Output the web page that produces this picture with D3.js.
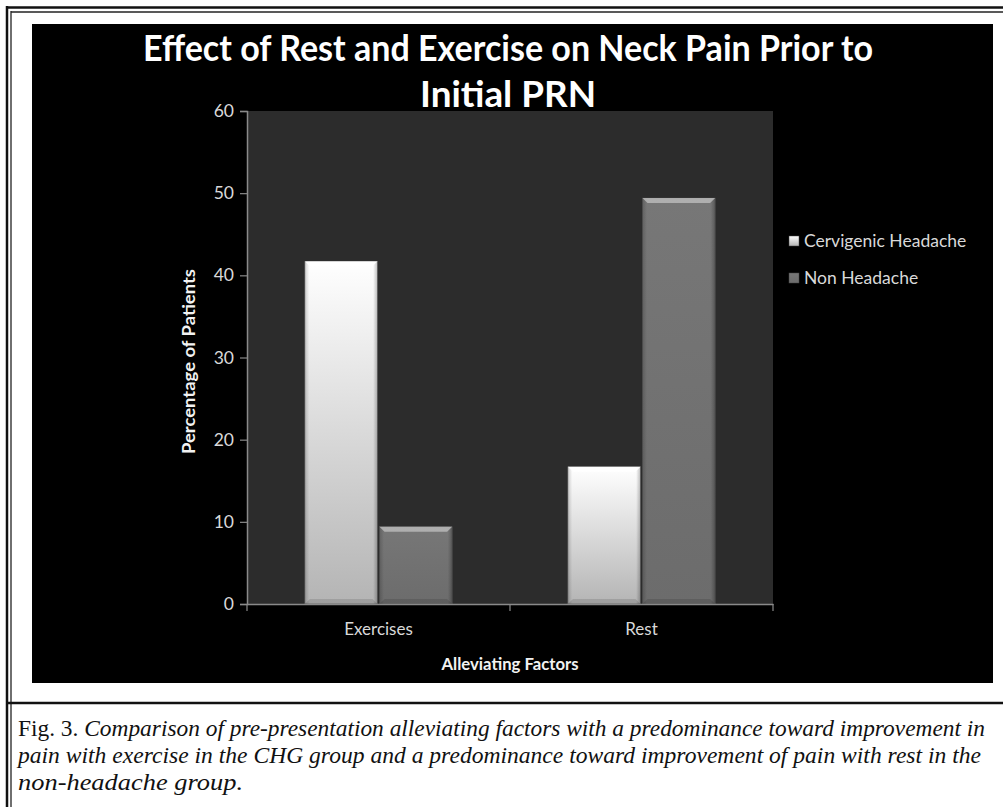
<!DOCTYPE html>
<html>
<head>
<meta charset="utf-8">
<script src="https://cdn.jsdelivr.net/npm/d3@7"></script>
<style>
  html, body { margin: 0; padding: 0; background: #fff; }
  svg { display: block; }
</style>
</head>
<body>
<svg id="fig" width="1003" height="807"></svg>
<script>
// Chart data
const categories = ["Exercises", "Rest"];
const seriesNames = ["Cervigenic Headache", "Non Headache"];
const cervigenicValues = [41.7, 16.7];
const nonHeadacheValues = [9.4, 49.4];
const yTicks = [0, 10, 20, 30, 40, 50, 60];
const titleLines = ["Effect of Rest and Exercise on Neck Pain Prior to", "Initial PRN"];
const captionLead = "Fig. 3. ";
const captionLines = [
  "Comparison of  pre-presentation alleviating factors with a predominance toward improvement in",
  "pain with exercise in the CHG group and a predominance toward improvement of  pain with rest in the",
  "non-headache group."
];

const svg = d3.select("#fig");
const defs = svg.append("defs");

// Figure frame: double rule at top and left, single rule above the caption
const frame = svg.append("g");
frame.append("line").attr("x1", 6).attr("x2", 1003).attr("y1", 7.5).attr("y2", 7.5).attr("stroke", "#111").attr("stroke-width", 2.5);
frame.append("line").attr("x1", 11).attr("x2", 1003).attr("y1", 12).attr("y2", 12).attr("stroke", "#222").attr("stroke-width", 1.3);
frame.append("line").attr("x1", 7).attr("x2", 7).attr("y1", 6).attr("y2", 807).attr("stroke", "#111").attr("stroke-width", 2.5);
frame.append("line").attr("x1", 11).attr("x2", 11).attr("y1", 11).attr("y2", 807).attr("stroke", "#222").attr("stroke-width", 1.3);
frame.append("line").attr("x1", 7).attr("x2", 1003).attr("y1", 703).attr("y2", 703).attr("stroke", "#111").attr("stroke-width", 2.5);

// Chart area
svg.append("rect").attr("x", 32).attr("y", 24).attr("width", 961).attr("height", 659).attr("fill", "#000");

const plot = { left: 247, right: 773, top: 111, bottom: 604 };

const x0 = d3.scaleBand().domain(categories).range([plot.left, plot.right]).paddingInner(0).paddingOuter(0);
const x1 = d3.scaleBand().domain(seriesNames)
  .range([x0.bandwidth() * 0.22, x0.bandwidth() * 0.78])
  .paddingInner(0.027).paddingOuter(0);
const y = d3.scaleLinear().domain([0, 60]).range([plot.bottom, plot.top]);

svg.append("rect")
  .attr("x", plot.left).attr("y", plot.top)
  .attr("width", plot.right - plot.left).attr("height", plot.bottom - plot.top)
  .attr("fill", "#2c2c2c");

// Gradients for the bevelled bars
const gWhite = defs.append("linearGradient").attr("id", "gWhite").attr("x1", 0).attr("x2", 0).attr("y1", 0).attr("y2", 1);
gWhite.append("stop").attr("offset", "0%").attr("stop-color", "#ffffff");
gWhite.append("stop").attr("offset", "100%").attr("stop-color", "#b4b4b4");
const gWhiteSide = defs.append("linearGradient").attr("id", "gWhiteSide").attr("x1", 0).attr("x2", 1).attr("y1", 0).attr("y2", 0);
gWhiteSide.append("stop").attr("offset", "0%").attr("stop-color", "#000").attr("stop-opacity", 0.18);
gWhiteSide.append("stop").attr("offset", "6%").attr("stop-color", "#000").attr("stop-opacity", 0);
gWhiteSide.append("stop").attr("offset", "94%").attr("stop-color", "#000").attr("stop-opacity", 0);
gWhiteSide.append("stop").attr("offset", "100%").attr("stop-color", "#000").attr("stop-opacity", 0.25);
const gGray = defs.append("linearGradient").attr("id", "gGray").attr("x1", 0).attr("x2", 0).attr("y1", 0).attr("y2", 1);
gGray.append("stop").attr("offset", "0%").attr("stop-color", "#777");
gGray.append("stop").attr("offset", "100%").attr("stop-color", "#6c6c6c");

const fills = { "Cervigenic Headache": "url(#gWhite)", "Non Headache": "url(#gGray)" };
const tops = { "Cervigenic Headache": "#ffffff", "Non Headache": "#b5b5b5" };

const rows = categories.map((c, i) => ({
  category: c,
  values: [
    { series: seriesNames[0], value: cervigenicValues[i] },
    { series: seriesNames[1], value: nonHeadacheValues[i] }
  ]
}));

const groups = svg.append("g").selectAll("g").data(rows).join("g")
  .attr("transform", d => `translate(${x0(d.category)},0)`);

const bars = groups.selectAll("g").data(d => d.values).join("g");
bars.append("rect")
  .attr("x", d => x1(d.series))
  .attr("y", d => y(d.value))
  .attr("width", x1.bandwidth())
  .attr("height", d => y(0) - y(d.value))
  .attr("fill", d => fills[d.series])
  .attr("stroke", "#555").attr("stroke-width", 0.6);
bars.append("rect")
  .attr("x", d => x1(d.series))
  .attr("y", d => y(d.value))
  .attr("width", x1.bandwidth())
  .attr("height", d => y(0) - y(d.value))
  .attr("fill", "url(#gWhiteSide)");
// bevelled top edge
bars.append("path")
  .attr("d", d => {
    const bx = x1(d.series), bw = x1.bandwidth(), by = y(d.value);
    return `M${bx},${by} L${bx + bw},${by} L${bx + bw - 5},${by + 5} L${bx + 5},${by + 5} Z`;
  })
  .attr("fill", d => tops[d.series]).attr("opacity", 0.9);
// bevelled bottom edge
bars.append("path")
  .attr("d", d => {
    const bx = x1(d.series), bw = x1.bandwidth(), by = y(0);
    return `M${bx},${by} L${bx + bw},${by} L${bx + bw - 5},${by - 5} L${bx + 5},${by - 5} Z`;
  })
  .attr("fill", "#000").attr("opacity", 0.12);

// Axes
const axisColor = "#8a8a8a";
const textColor = "#d9d9d9";
const sans = "Lato, 'Open Sans', sans-serif";
const yAxis = svg.append("g").attr("transform", `translate(${plot.left},0)`)
  .call(d3.axisLeft(y).tickValues(yTicks).tickSize(7).tickPadding(6));
yAxis.select(".domain").attr("stroke", axisColor).attr("stroke-width", 1.5);
yAxis.selectAll(".tick line").attr("stroke", axisColor).attr("stroke-width", 1.2);
yAxis.selectAll(".tick text").attr("fill", textColor).attr("font-family", sans).attr("font-size", 17.5);

const xAxis = svg.append("g").attr("transform", `translate(0,${plot.bottom})`)
  .call(d3.axisBottom(x0).tickSize(0).tickPadding(19));
xAxis.select(".domain").attr("stroke", axisColor).attr("stroke-width", 1.5);
xAxis.selectAll(".tick text").attr("fill", textColor).attr("font-family", sans).attr("font-size", 17);
// category dividers below the axis
const dividers = [plot.left, ...categories.map(c => x0(c) + x0.bandwidth())];
svg.append("g").selectAll("line").data(dividers).join("line")
  .attr("x1", d => d).attr("x2", d => d)
  .attr("y1", plot.bottom).attr("y2", plot.bottom + 7)
  .attr("stroke", axisColor).attr("stroke-width", 1.2);

// Axis titles
svg.append("text")
  .attr("transform", `translate(195,${(plot.top + plot.bottom) / 2 + 4}) rotate(-90)`)
  .attr("text-anchor", "middle")
  .attr("fill", "#f2f2f2").attr("font-family", sans)
  .attr("font-weight", "bold").attr("font-size", 16.5)
  .attr("textLength", 185).attr("lengthAdjust", "spacingAndGlyphs")
  .text("Percentage of Patients");
svg.append("text")
  .attr("x", (plot.left + plot.right) / 2).attr("y", 670)
  .attr("text-anchor", "middle")
  .attr("fill", "#f2f2f2").attr("font-family", sans)
  .attr("font-weight", "bold").attr("font-size", 17)
  .attr("textLength", 137).attr("lengthAdjust", "spacingAndGlyphs")
  .text("Alleviating Factors");

// Title
const titleWidths = [730, 176];
svg.append("g").selectAll("text").data(titleLines).join("text")
  .attr("x", 508).attr("y", (d, i) => 61 + i * 46)
  .attr("text-anchor", "middle")
  .attr("fill", "#fff").attr("font-family", sans)
  .attr("font-weight", "bold").attr("font-size", 36)
  .attr("textLength", (d, i) => titleWidths[i]).attr("lengthAdjust", "spacingAndGlyphs")
  .text(d => d);

// Legend
const legend = svg.append("g").selectAll("g").data(seriesNames).join("g")
  .attr("transform", (d, i) => `translate(789,${241 + i * 37})`);
legend.append("rect").attr("x", 0).attr("y", -5).attr("width", 10).attr("height", 10)
  .attr("fill", d => fills[d]).attr("stroke", "#444").attr("stroke-width", 0.5);
legend.append("text").attr("x", 15).attr("y", 6)
  .attr("fill", textColor).attr("font-family", sans).attr("font-size", 17.5)
  .text(d => d);

// Caption
const cap = svg.append("g").attr("font-family", "'Liberation Serif', 'DejaVu Serif', serif").attr("font-size", 23.5).attr("fill", "#111");
const capWidths = [967, 963, 225];
captionLines.forEach((line, i) => {
  const t = cap.append("text").attr("x", 18).attr("y", 736 + i * 27)
    .attr("textLength", capWidths[i]).attr("lengthAdjust", "spacingAndGlyphs");
  if (i === 0) t.append("tspan").text(captionLead);
  t.append("tspan").attr("font-style", "italic").text(line);
});
</script>
</body>
</html>
